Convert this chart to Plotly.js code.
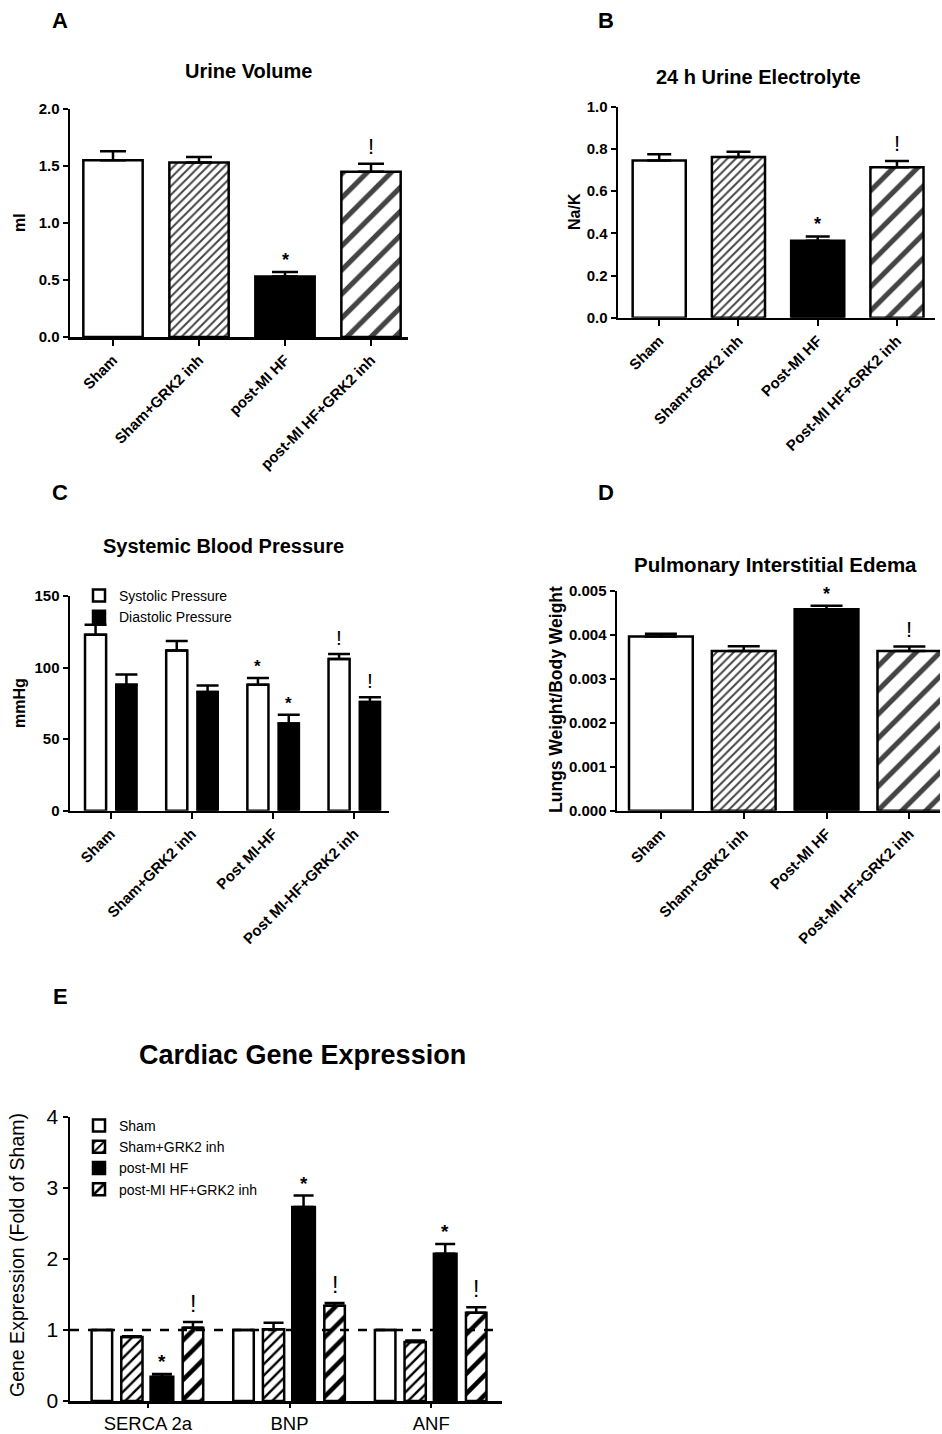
<!DOCTYPE html>
<html>
<head>
<meta charset="utf-8">
<script src="https://cdn.plot.ly/plotly-3.0.1.min.js"></script>
<style>html,body{margin:0;padding:0;background:#fff;}#chart{width:942px;height:1434px;}</style>
</head>
<body>
<div id="chart"></div>
<script>
// ---------- DATA ----------
const groupsA = ['Sham', 'Sham+GRK2 inh', 'post-MI HF', 'post-MI HF+GRK2 inh'];
const urineVolume = [1.55, 1.53, 0.53, 1.45];
const urineVolumeSem = [0.08, 0.05, 0.04, 0.07];
const urineVolumeSig = ['', '', '*', '!'];

const groupsB = ['Sham', 'Sham+GRK2 inh', 'Post-MI HF', 'Post-MI HF+GRK2 inh'];
const naK = [0.745, 0.762, 0.365, 0.713];
const naKSem = [0.03, 0.025, 0.02, 0.03];
const naKSig = ['', '', '*', '!'];

const groupsC = ['Sham', 'Sham+GRK2 inh', 'Post MI-HF', 'Post MI-HF+GRK2 inh'];
const systolic = [123, 112, 88, 106];
const systolicSem = [7, 6.5, 4.7, 3.5];
const systolicSig = ['', '', '*', '!'];
const diastolic = [88, 83, 61, 76];
const diastolicSem = [7.2, 4.4, 6, 3.3];
const diastolicSig = ['', '', '*', '!'];

const groupsD = ['Sham', 'Sham+GRK2 inh', 'Post-MI HF', 'Post-MI HF+GRK2 inh'];
const lungRatio = [0.00396, 0.00363, 0.00458, 0.00363];
const lungRatioSem = [0.00006, 0.00011, 0.00008, 0.0001];
const lungRatioSig = ['', '', '*', '!'];

const genes = ['SERCA 2a', 'BNP', 'ANF'];
const seriesE = ['Sham', 'Sham+GRK2 inh', 'post-MI HF', 'post-MI HF+GRK2 inh'];
const geneSham = [1, 1, 1];
const geneShamSem = [0, 0, 0];
const geneGrk = [0.9, 1.01, 0.83];
const geneGrkSem = [0.01, 0.09, 0.02];
const genePost = [0.34, 2.73, 2.07];
const genePostSem = [0.04, 0.16, 0.14];
const genePostGrk = [1.03, 1.34, 1.24];
const genePostGrkSem = [0.08, 0.04, 0.08];
const geneShamSig = ['', '', ''];
const geneGrkSig = ['', '', ''];
const genePostSig = ['*', '*', '*'];
const genePostGrkSig = ['!', '!', '!'];

// ---------- STYLE ----------
const W = 942, H = 1434;
const px = v => v / W;
const py = v => 1 - v / H;
const FONT = 'Liberation Sans, Arial, sans-serif';
const fills4 = ['white', 'white', 'black', 'white'];
const shapes4 = ['', '/', '', '/'];
const sizes4 = [8, 6, 8, 17];
const solid4 = [0.3, 0.33, 0.3, 0.3];

function errBars(sem, w) {
  return {type: 'data', symmetric: false, array: sem, arrayminus: sem.map(() => 0),
          color: 'black', thickness: 2.5, width: w, visible: true};
}

function singleBar(cats, vals, sem, ax, width, capw) {
  return {
    type: 'bar', x: cats, y: vals, xaxis: 'x' + ax, yaxis: 'y' + ax, width: width,
    showlegend: false, hoverinfo: 'skip',
    marker: {color: fills4, line: {color: 'black', width: 2.5},
             pattern: {shape: shapes4, size: sizes4, solidity: solid4, fgcolor: 'black', fgopacity: 1, fillmode: 'overlay'}},
    error_y: errBars(sem, capw)
  };
}

const traces = [];
traces.push(singleBar(groupsA, urineVolume, urineVolumeSem, '', 0.69, 13));
traces.push(singleBar(groupsB, naK, naKSem, '2', 0.67, 12));
traces.push(singleBar(groupsD, lungRatio, lungRatioSem, '4', 0.77, 16));

// Panel C
const cSys = {center: -0.185, width: 0.26};
const cDia = {center: 0.195, width: 0.25};
traces.push({type: 'bar', name: 'Systolic Pressure', x: groupsC, y: systolic, xaxis: 'x3', yaxis: 'y3',
  width: cSys.width, offset: cSys.center - cSys.width / 2, legend: 'legend', hoverinfo: 'skip',
  marker: {color: 'white', line: {color: 'black', width: 2.5}}, error_y: errBars(systolicSem, 11)});
traces.push({type: 'bar', name: 'Diastolic Pressure', x: groupsC, y: diastolic, xaxis: 'x3', yaxis: 'y3',
  width: cDia.width, offset: cDia.center - cDia.width / 2, legend: 'legend', hoverinfo: 'skip',
  marker: {color: 'black', line: {color: 'black', width: 2.5}}, error_y: errBars(diastolicSem, 11)});

// Panel E
const eStyles = [
  {center: -0.325, width: 0.145, color: 'white', shape: '', size: 8, sol: 0.3},
  {center: -0.113, width: 0.15, color: 'white', shape: '/', size: 8, sol: 0.3},
  {center: 0.099, width: 0.16, color: 'black', shape: '', size: 8, sol: 0.3},
  {center: 0.318, width: 0.145, color: 'white', shape: '/', size: 14, sol: 0.33}
];
const eVals = [geneSham, geneGrk, genePost, genePostGrk];
const eSems = [geneShamSem, geneGrkSem, genePostSem, genePostGrkSem];
const eSigs = [geneShamSig, geneGrkSig, genePostSig, genePostGrkSig];
seriesE.forEach((name, k) => {
  const s = eStyles[k];
  traces.push({type: 'bar', name: name, x: genes, y: eVals[k], xaxis: 'x5', yaxis: 'y5',
    width: s.width, offset: s.center - s.width / 2, legend: 'legend2', hoverinfo: 'skip',
    marker: {color: s.color, line: {color: 'black', width: 2.5},
             pattern: {shape: s.shape, size: s.size, solidity: s.sol, fgcolor: 'black', fgopacity: 1, fillmode: 'overlay'}},
    error_y: errBars(eSems[k], 10)});
});

// ---------- AXES ----------
function xAx(dom, range, anchor, fontSize, bold, angle, tlen) {
  return {domain: dom, range: range, anchor: anchor, type: 'category', showline: true, linewidth: 2.5,
    linecolor: 'black', ticks: 'outside', ticklen: tlen || 6, tickwidth: 2, tickcolor: 'black', showgrid: false,
    zeroline: false, tickangle: angle, fixedrange: true,
    tickfont: {family: FONT, size: fontSize, color: 'black', weight: bold ? 'bold' : 'normal'}};
}
function yAx(dom, range, dtick, fmt, anchor, fontSize, bold) {
  return {domain: dom, range: range, anchor: anchor, dtick: dtick, tick0: 0, tickformat: fmt, showline: true,
    linewidth: 2.5, linecolor: 'black', ticks: 'outside', ticklen: 5, tickwidth: 2, tickcolor: 'black',
    showgrid: false, zeroline: false, fixedrange: true,
    tickfont: {family: FONT, size: fontSize, color: 'black', weight: bold ? 'bold' : 'normal'}};
}

// ---------- ANNOTATIONS ----------
const ann = [];
function txt(text, x, y, size, bold, extra) {
  ann.push(Object.assign({xref: 'paper', yref: 'paper', x: px(x), y: py(y), text: text, showarrow: false,
    xanchor: 'center', yanchor: 'middle',
    font: {family: FONT, size: size, color: 'black', weight: bold ? 'bold' : 'normal'}}, extra || {}));
}
txt('A', 60, 20, 22, true);
txt('B', 606, 20, 22, true);
txt('C', 60, 492, 22, true);
txt('D', 606, 492, 22, true);
txt('E', 60, 997, 22, true);
txt('Urine Volume', 248, 71, 20, true);
txt('24 h Urine Electrolyte', 758, 77, 20, true);
txt('Systemic Blood Pressure', 223, 546, 20, true);
txt('Pulmonary Interstitial Edema', 775, 565, 20.5, true);
txt('Cardiac Gene Expression', 302, 1055, 27, true);
txt('ml', 19, 223, 16, true, {textangle: -90});
txt('Na/K', 574, 212, 16, true, {textangle: -90});
txt('mmHg', 19, 703, 16, true, {textangle: -90});
txt('Lungs Weight/Body Weight', 556, 700, 17.5, true, {textangle: -90});
txt('Gene Expression (Fold of Sham)', 17, 1255, 19.5, false, {textangle: -90});

function sigMarks(sig, vals, sem, ax, offsetCenter, size) {
  sig.forEach((s, i) => {
    if (!s) return;
    ann.push({xref: 'x' + ax, yref: 'y' + ax, x: i + offsetCenter, y: vals[i] + sem[i], text: s,
      showarrow: false, xanchor: 'center', yanchor: 'bottom', yshift: s === '*' ? 0 : 3,
      font: {family: FONT, size: s === '*' ? size : size + 4, color: 'black', weight: s === '*' ? 'bold' : 'normal'}});
  });
}
sigMarks(urineVolumeSig, urineVolume, urineVolumeSem, '', 0, 18);
sigMarks(naKSig, naK, naKSem, '2', 0, 18);
sigMarks(lungRatioSig, lungRatio, lungRatioSem, '4', 0, 18);
sigMarks(systolicSig, systolic, systolicSem, '3', cSys.center, 17);
sigMarks(diastolicSig, diastolic, diastolicSem, '3', cDia.center, 17);
eSigs.forEach((sg, k) => sigMarks(sg, eVals[k], eSems[k], '5', eStyles[k].center, 19));

// ---------- LAYOUT ----------
const layout = {
  width: W, height: H, margin: {l: 0, r: 0, t: 0, b: 0}, paper_bgcolor: 'white', plot_bgcolor: 'rgba(0,0,0,0)',
  barmode: 'group', hovermode: false,
  font: {family: FONT, color: 'black'},
  xaxis: xAx([px(70), px(408)], [-0.5, 3.43], 'y', 15, true, -45),
  yaxis: yAx([py(337), py(109)], [0, 2], 0.5, '.1f', 'x', 15, true),
  xaxis2: xAx([px(618), px(935)], [-0.52, 3.48], 'y2', 15, true, -45),
  yaxis2: yAx([py(317.7), py(106.7)], [0, 1], 0.2, '.1f', 'x2', 15, true),
  xaxis3: xAx([px(70), px(389)], [-0.5, 3.43], 'y3', 15, true, -45),
  yaxis3: yAx([py(810.7), py(596)], [0, 150], 50, 'd', 'x3', 15, true),
  xaxis4: xAx([px(617), px(940)], [-0.53, 3.37], 'y4', 15, true, -45),
  yaxis4: yAx([py(810.7), py(590.7)], [0, 0.005], 0.001, '.3f', 'x4', 15, true),
  xaxis5: xAx([px(70), px(502)], [-0.55, 2.5], 'y5', 18.5, false, 0, 4),
  yaxis5: yAx([py(1401), py(1116.7)], [0, 4], 1, 'd', 'x5', 21, false),
  legend: {x: px(79), y: py(580), xanchor: 'left', yanchor: 'top', bgcolor: 'rgba(0,0,0,0)',
    font: {family: FONT, size: 14, color: 'black'}, itemwidth: 30, tracegroupgap: 0},
  legend2: {x: px(79), y: py(1110), xanchor: 'left', yanchor: 'top', bgcolor: 'rgba(0,0,0,0)',
    font: {family: FONT, size: 14, color: 'black'}, itemwidth: 30, tracegroupgap: 0},
  shapes: [{type: 'line', xref: 'x5 domain', yref: 'y5', x0: 0, x1: 1, y0: 1, y1: 1,
    line: {color: 'black', width: 2.5, dash: 'dash'}, layer: 'above'}],
  annotations: ann
};

Plotly.newPlot('chart', traces, layout, {staticPlot: true, displayModeBar: false});
</script>
</body>
</html>
